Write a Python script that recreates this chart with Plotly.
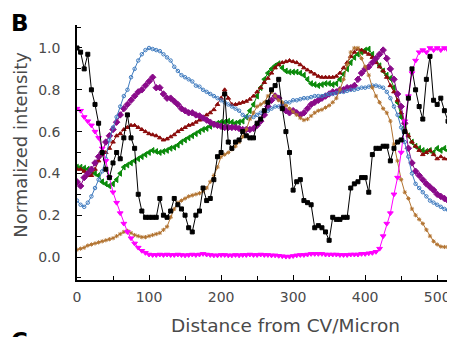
import plotly.graph_objects as go

distance = list(range(0, 520, 5))

black = [1.0, 0.98, 0.9, 0.97, 0.8, 0.73, 0.64, 0.5, 0.42, 0.38, 0.45, 0.5, 0.47, 0.57, 0.68, 0.57, 0.52, 0.3, 0.22, 0.19,
         0.19, 0.19, 0.19, 0.28, 0.2, 0.19, 0.22, 0.28, 0.25, 0.23, 0.2, 0.14, 0.12, 0.2, 0.22, 0.33, 0.27, 0.28, 0.37, 0.48,
         0.5, 0.78, 0.55, 0.52, 0.55, 0.56, 0.6, 0.58, 0.57, 0.57, 0.64, 0.66, 0.7, 0.74, 0.8, 0.82, 0.85, 0.71, 0.6, 0.5,
         0.32, 0.36, 0.37, 0.27, 0.26, 0.25, 0.14, 0.15, 0.14, 0.12, 0.08, 0.19, 0.18, 0.18, 0.19, 0.19, 0.33, 0.35, 0.36, 0.38,
         0.38, 0.31, 0.49, 0.52, 0.52, 0.53, 0.53, 0.46, 0.52, 0.55, 0.56, 0.6, 0.76, 0.9, 0.8, 0.72, 0.66, 0.85, 0.96, 0.75,
         0.73, 0.76, 0.7, 0.65]

magenta = [0.71, 0.7, 0.67, 0.65, 0.63, 0.6, 0.57, 0.52, 0.46, 0.38, 0.31, 0.26, 0.21, 0.16, 0.12, 0.09, 0.065, 0.045, 0.03, 0.02,
           0.012, 0.01, 0.01, 0.012, 0.01, 0.012, 0.01, 0.01, 0.012, 0.01, 0.008, 0.01, 0.012, 0.01, 0.012, 0.015, 0.012, 0.01, 0.008, 0.008,
           0.01, 0.01, 0.008, 0.008, 0.01, 0.008, 0.01, 0.01, 0.012, 0.01, 0.01, 0.012, 0.01, 0.01, 0.008, 0.008, 0.006, 0.004, 0.002, 0.002,
           0.005, 0.008, 0.01, 0.01, 0.012, 0.015, 0.015, 0.015, 0.015, 0.012, 0.012, 0.012, 0.012, 0.01, 0.01, 0.01, 0.012, 0.012, 0.012, 0.015,
           0.015, 0.018, 0.02, 0.025, 0.04, 0.1, 0.16, 0.21, 0.3, 0.38, 0.5, 0.65, 0.77, 0.88, 0.94, 0.98, 0.99, 0.98, 1.0, 0.99,
           1.0, 0.99, 1.0, 0.99]

blue = [0.27, 0.25, 0.24, 0.26, 0.29, 0.33, 0.37, 0.41, 0.47, 0.56, 0.62, 0.67, 0.72, 0.77, 0.8, 0.86, 0.9, 0.94, 0.97, 0.99,
        1.0, 0.995, 0.99, 0.985, 0.97, 0.955, 0.94, 0.91, 0.89, 0.87, 0.86, 0.85, 0.84, 0.82, 0.815, 0.8, 0.79, 0.78, 0.77, 0.76,
        0.75, 0.74, 0.73, 0.72, 0.71, 0.7, 0.68, 0.67, 0.67, 0.67, 0.68, 0.69, 0.7, 0.7, 0.71, 0.72, 0.72, 0.73, 0.74, 0.74,
        0.75, 0.75, 0.755, 0.76, 0.76, 0.765, 0.77, 0.77, 0.77, 0.775, 0.78, 0.78, 0.785, 0.79, 0.79, 0.795, 0.8, 0.8, 0.805, 0.81,
        0.81, 0.815, 0.82, 0.82, 0.815, 0.81, 0.79, 0.76, 0.72, 0.68, 0.62, 0.55, 0.48, 0.4, 0.35, 0.33, 0.31, 0.29, 0.27, 0.26,
        0.25, 0.24, 0.23, 0.225]

purple = [0.36, 0.34, 0.38, 0.4, 0.42, 0.45, 0.48, 0.5, 0.55, 0.58, 0.61, 0.645, 0.68, 0.71, 0.73, 0.75, 0.77, 0.79, 0.8, 0.82,
          0.84, 0.86, 0.81, 0.81, 0.78, 0.76, 0.76, 0.745, 0.73, 0.71, 0.7, 0.69, 0.69, 0.68, 0.675, 0.665, 0.655, 0.645, 0.635, 0.63,
          0.625, 0.62, 0.62, 0.62, 0.62, 0.615, 0.61, 0.61, 0.61, 0.615, 0.63, 0.65, 0.68, 0.72, 0.75, 0.77, 0.76, 0.72, 0.7, 0.69,
          0.7, 0.69, 0.68, 0.69, 0.71, 0.73, 0.74, 0.75, 0.76, 0.77, 0.78, 0.79, 0.79, 0.8, 0.8, 0.81, 0.81, 0.82, 0.85, 0.88,
          0.9, 0.91, 0.93, 0.95, 0.97, 0.99, 0.95, 0.9, 0.85, 0.78, 0.72, 0.64, 0.52, 0.45, 0.41, 0.39, 0.37, 0.35, 0.335, 0.32,
          0.3, 0.29, 0.28, 0.27]

darkred = [0.42, 0.42, 0.41, 0.39, 0.39, 0.42, 0.46, 0.49, 0.5, 0.52, 0.55, 0.58, 0.59, 0.61, 0.62, 0.63, 0.63, 0.62, 0.61, 0.6,
           0.59, 0.585, 0.58, 0.57, 0.56, 0.565, 0.575, 0.585, 0.6, 0.61, 0.62, 0.63, 0.635, 0.645, 0.655, 0.665, 0.68, 0.69, 0.705, 0.73,
           0.76, 0.8, 0.76, 0.73, 0.73, 0.735, 0.74, 0.745, 0.755, 0.77, 0.79, 0.81, 0.835, 0.855, 0.88, 0.905, 0.92, 0.93, 0.935, 0.94,
           0.935, 0.93, 0.92, 0.905, 0.895, 0.885, 0.875, 0.865, 0.86, 0.86, 0.86, 0.86, 0.865, 0.88, 0.905, 0.93, 0.96, 0.98, 0.995, 0.99,
           0.98, 0.97, 0.955, 0.93, 0.91, 0.89, 0.86, 0.82, 0.79, 0.75, 0.69, 0.64, 0.58, 0.55, 0.53, 0.51, 0.49, 0.5, 0.51, 0.49,
           0.47, 0.48, 0.47, 0.47]

green = [0.43, 0.43, 0.425, 0.42, 0.41, 0.4, 0.39, 0.36, 0.35, 0.34, 0.35, 0.37, 0.4, 0.43, 0.44, 0.45, 0.46, 0.47, 0.48, 0.49,
         0.5, 0.51, 0.505, 0.5, 0.505, 0.51, 0.52, 0.525, 0.535, 0.55, 0.56, 0.57, 0.58, 0.59, 0.6, 0.61, 0.615, 0.625, 0.635, 0.64,
         0.645, 0.645, 0.65, 0.645, 0.64, 0.645, 0.65, 0.67, 0.7, 0.73, 0.77, 0.81, 0.85, 0.88, 0.9, 0.915, 0.925, 0.905, 0.89, 0.885,
         0.885, 0.885, 0.88, 0.87, 0.85, 0.83, 0.825, 0.82, 0.825, 0.83, 0.83, 0.825, 0.83, 0.85, 0.875, 0.9, 0.93, 0.955, 0.97, 0.98,
         0.99, 0.995, 0.97, 0.94, 0.915, 0.89, 0.87, 0.855, 0.81, 0.74, 0.67, 0.62, 0.58, 0.55, 0.53, 0.52, 0.51, 0.505, 0.51, 0.5,
         0.52, 0.51, 0.52, 0.51]

brown = [0.035, 0.04, 0.045, 0.055, 0.06, 0.065, 0.07, 0.075, 0.08, 0.085, 0.09, 0.1, 0.11, 0.12, 0.125, 0.115, 0.105, 0.1, 0.095, 0.095,
         0.1, 0.105, 0.11, 0.115, 0.13, 0.145, 0.19, 0.23, 0.26, 0.27, 0.28, 0.29, 0.295, 0.3, 0.305, 0.315, 0.33, 0.36, 0.39, 0.43,
         0.48, 0.49, 0.5, 0.515, 0.53, 0.55, 0.575, 0.61, 0.66, 0.69, 0.72, 0.73, 0.74, 0.77, 0.79, 0.77, 0.75, 0.74, 0.725, 0.71,
         0.695, 0.68, 0.665, 0.655, 0.66, 0.675, 0.69, 0.7, 0.705, 0.715, 0.725, 0.74, 0.76, 0.8, 0.85, 0.92, 0.98, 1.0, 1.0, 0.95,
         0.91, 0.87, 0.81, 0.77, 0.74, 0.71, 0.69, 0.65, 0.54, 0.46, 0.37, 0.31, 0.28, 0.23, 0.2, 0.18, 0.16, 0.13, 0.1, 0.075,
         0.06, 0.05, 0.048, 0.048]

series = [
    ("green", green, "#0A8A0A", "triangle-left", 5),
    ("darkred", darkred, "#8B0A0A", "triangle-up", 4),
    ("purple", purple, "#8A0A8A", "diamond", 5),
    ("blue", blue, "#3F7BBF", "circle-open", 3.5),
    ("brown", brown, "#B27330", "asterisk-open", 3.5),
    ("magenta", magenta, "#FF00FF", "triangle-down", 5),
    ("black", black, "#000000", "square", 4),
]

fig = go.Figure()
for name, ys, col, sym, sz in series:
    fig.add_trace(go.Scatter(
        x=distance, y=ys, mode="lines+markers", name=name,
        line=dict(color=col, width=1),
        marker=dict(symbol=sym, size=sz, color=col, line=dict(color=col, width=1)),
        showlegend=False,
    ))

FAM = "DejaVu Sans, Liberation Sans, Arial, sans-serif"
tick_font = dict(family=FAM, size=14, color="#4a4a4a")

# page body adds an 8px offset, so the figure is 8px smaller than the window
fig.update_layout(
    width=447, height=329,
    margin=dict(l=69, r=7, t=17, b=57),
    paper_bgcolor="white", plot_bgcolor="white",
    font=dict(family=FAM),
    xaxis=dict(
        range=[0, 515], tickvals=[0, 100, 200, 300, 400, 500],
        ticks="inside", ticklen=5, tickwidth=1, tickcolor="black",
        minor=dict(tickvals=[50, 150, 250, 350, 450], ticks="inside", ticklen=4, tickcolor="black"),
        showline=True, linecolor="black", linewidth=1.5, showgrid=False, zeroline=False,
        tickfont=tick_font, ticklabelstandoff=3, automargin=False,
    ),
    yaxis=dict(
        range=[-0.11, 1.11], tickvals=[0.0, 0.2, 0.4, 0.6, 0.8, 1.0], tickformat=".1f",
        ticks="inside", ticklen=5, tickwidth=1, tickcolor="black",
        minor=dict(tickvals=[-0.1, 0.1, 0.3, 0.5, 0.7, 0.9, 1.1], ticks="inside", ticklen=4, tickcolor="black"),
        showline=True, linecolor="black", linewidth=1.5, showgrid=False, zeroline=False,
        tickfont=tick_font, ticklabelstandoff=12, automargin=False,
    ),
    annotations=[
        dict(text="Distance from CV/Micron", xref="paper", yref="paper", x=0.563, y=-0.18,
             xanchor="center", yanchor="middle", showarrow=False,
             font=dict(family=FAM, size=18.5, color="#4a4a4a")),
        dict(text="Normalized intensity", xref="paper", yref="paper", x=-0.151, y=0.53,
             xanchor="center", yanchor="middle", showarrow=False, textangle=-90,
             font=dict(family=FAM, size=18, color="#4a4a4a")),
        dict(text="<b>B</b>", xref="paper", yref="paper", x=(9 - 77) / 371, y=(280 - 23) / 255,
             xanchor="left", yanchor="middle", showarrow=False,
             font=dict(family=FAM, size=23, color="black")),
        dict(text="<b>C</b>", xref="paper", yref="paper", x=(9 - 77) / 371, y=(280 - 341) / 255,
             xanchor="left", yanchor="middle", showarrow=False,
             font=dict(family=FAM, size=23, color="black")),
    ],
)

fig.write_html("out.html")
